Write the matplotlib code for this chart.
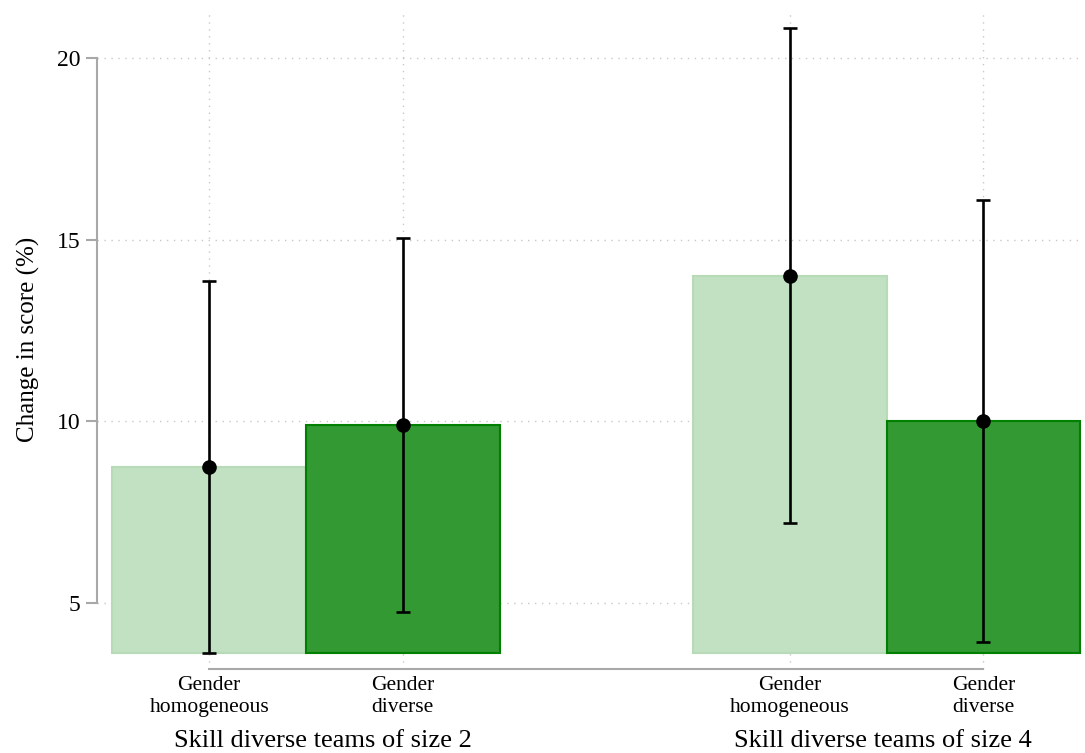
import matplotlib
matplotlib.use("Agg")
import matplotlib.pyplot as plt
import matplotlib.transforms as mtransforms

plt.rcParams['font.family'] = ['Liberation Serif', 'DejaVu Serif']

categories = ["Gender\nhomogeneous", "Gender\ndiverse", "Gender\nhomogeneous", "Gender\ndiverse"]
groups = ["Skill diverse teams of size 2", "Skill diverse teams of size 4"]
means = [8.75, 9.9, 14.0, 10.0]
ci_low = [3.62, 4.75, 7.2, 3.92]
ci_high = [13.85, 15.05, 20.82, 16.08]
yticks = [5, 10, 15, 20]

positions = [1, 2, 4, 5]
group_label_x = [1.59, 4.48]
face_colors = ["#c2e1c2", "#339933", "#c2e1c2", "#339933"]
edge_colors = ["#b6dbb6", "#008000", "#b6dbb6", "#008000"]

fig = plt.figure(figsize=(10.85, 7.53), dpi=100)
ax = fig.add_axes([97/1085, 1 - 669/753, (1082-97)/1085, (669-10)/753])

base = min(ci_low)
for x, m, fc, ec in zip(positions, means, face_colors, edge_colors):
    ax.bar(x, m - base, bottom=base, width=1.0, color=fc, edgecolor=ec,
           linewidth=1.5, zorder=2)

yerr = [[m - lo for m, lo in zip(means, ci_low)], [hi - m for m, hi in zip(means, ci_high)]]
ax.errorbar(positions, means, yerr=yerr, fmt='o', color='black', ms=9.5,
            elinewidth=1.9, capsize=5, capthick=1.9, zorder=3)

ax.set_xlim(0.42, 5.51)
ax.set_ylim(3.18, 21.32)
ax.set_yticks(yticks)
ax.set_yticklabels([str(t) for t in yticks], fontsize=17)
ax.set_xticks(positions)
ax.set_xticklabels(categories, fontsize=15.5, linespacing=1.2)

ax.grid(True, linestyle=(0, (1, 4)), color='#c8c8c8', linewidth=1.0)
ax.set_axisbelow(True)

for s in ['top', 'right']:
    ax.spines[s].set_visible(False)
ax.spines['left'].set_bounds(5, 20)
ax.spines['bottom'].set_bounds(1, 5)
for s in ['left', 'bottom']:
    ax.spines[s].set_color('#a8a8a8')
    ax.spines[s].set_linewidth(1.5)

ax.tick_params(axis='y', length=8, width=1.5, color='#a8a8a8', pad=4)
ax.tick_params(axis='x', length=0, pad=5)

ax.set_ylabel("Change in score (%)", fontsize=18, labelpad=12)

trans = mtransforms.blended_transform_factory(ax.transData, fig.transFigure)
for gx, g in zip(group_label_x, groups):
    ax.text(gx, 1 - 741/753, g, transform=trans, ha='center', va='center', fontsize=19)

fig.savefig("out.png", dpi=100)
